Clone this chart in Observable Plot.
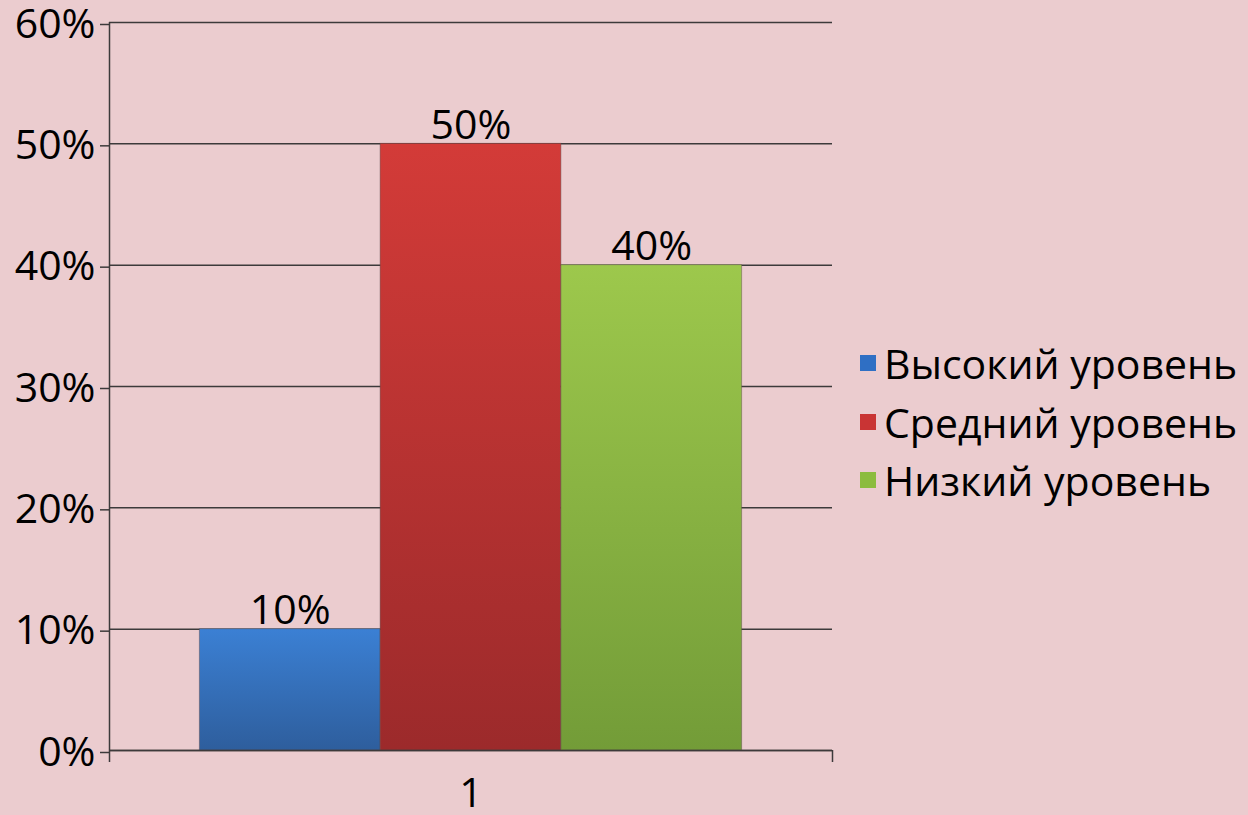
<!DOCTYPE html>
<html><head><meta charset="utf-8">
<script src="https://cdn.jsdelivr.net/npm/d3@7"></script>
<script src="https://cdn.jsdelivr.net/npm/@observablehq/plot@0.6"></script>
<style>
html,body{margin:0;padding:0;background:#ebcccf;font-family:"Open Sans",sans-serif;}
#wrap{position:relative;width:1248px;height:815px;overflow:hidden;}
#legend{position:absolute;left:860px;top:334px;}
.item{display:flex;align-items:center;height:58.5px;font-size:41px;color:#000;white-space:nowrap;}
.sw{width:16px;height:16px;margin-right:8px;flex:none;}
</style></head><body><div id="wrap"></div>
<script>
const category = "1";
const series = ["Высокий уровень", "Средний уровень", "Низкий уровень"];
const values = [0.10, 0.50, 0.40];
const yTicks = [0, 0.1, 0.2, 0.3, 0.4, 0.5, 0.6];
const topColors = ["#3b80d4", "#d33b38", "#9dc84c"];
const bottomColors = ["#2e5e9d", "#9c2a2b", "#739c38"];
const legendColors = ["#2f6fc4", "#c93434", "#8cbc3f"];

const rows = series.map((s, i) => ({series: s, value: values[i], x1: i + 0.5, x2: i + 1.5}));
const pct = d3.format(".0%");
const gridColor = "#3c3a3b";

const plot = Plot.plot({
  width: 1248, height: 815,
  marginLeft: 109, marginRight: 416, marginTop: 22, marginBottom: 65,
  style: {background: "transparent", fontFamily: "'Open Sans', sans-serif", fontSize: "41px", color: "#000", overflow: "visible"},
  x: {domain: [0, 4], axis: null},
  y: {domain: [0, 0.6], axis: null},
  color: {type: "ordinal", domain: series, range: series.map((_, i) => `url(#grad${i})`)},
  marks: [
    Plot.gridY(yTicks, {stroke: gridColor, strokeOpacity: 1, strokeWidth: 1.5}),
    Plot.axisY({ticks: yTicks, tickFormat: pct, tickSize: 9, tickPadding: 5, dy: 2, stroke: gridColor, strokeWidth: 1.5, fontSize: 41, label: null}),
    Plot.rectY(rows, {x1: "x1", x2: "x2", y: "value", fill: "series", stroke: "#5a4a4a", strokeOpacity: 0.45, strokeWidth: 1}),
    Plot.text(rows, {x: d => (d.x1 + d.x2) / 2, y: "value", text: d => pct(d.value), lineAnchor: "bottom", dy: -5, fontSize: 41}),
    Plot.ruleX([0], {stroke: gridColor, strokeWidth: 1.5}),
    Plot.ruleY([0], {stroke: gridColor, strokeWidth: 1.5}),
    Plot.axisX({ticks: [0, 4], tickSize: 12, tickFormat: () => "", stroke: gridColor, strokeWidth: 1.5, label: null}),
    Plot.axisX({ticks: [2], tickSize: 0, tickPadding: 27, tickFormat: () => category, fontSize: 41, label: null})
  ]
});

const defs = d3.select(plot).insert("defs", ":first-child");
series.forEach((_, i) => {
  const g = defs.append("linearGradient").attr("id", `grad${i}`).attr("x1", 0).attr("y1", 0).attr("x2", 0).attr("y2", 1);
  g.append("stop").attr("offset", "0%").attr("stop-color", topColors[i]);
  g.append("stop").attr("offset", "100%").attr("stop-color", bottomColors[i]);
});

const wrap = document.getElementById("wrap");
wrap.appendChild(plot);
const legend = document.createElement("div");
legend.id = "legend";
series.forEach((s, i) => {
  const item = document.createElement("div");
  item.className = "item";
  const sw = document.createElement("span");
  sw.className = "sw";
  sw.style.background = legendColors[i];
  const t = document.createElement("span");
  t.textContent = s;
  item.appendChild(sw); item.appendChild(t);
  legend.appendChild(item);
});
wrap.appendChild(legend);
</script>
</body></html>
